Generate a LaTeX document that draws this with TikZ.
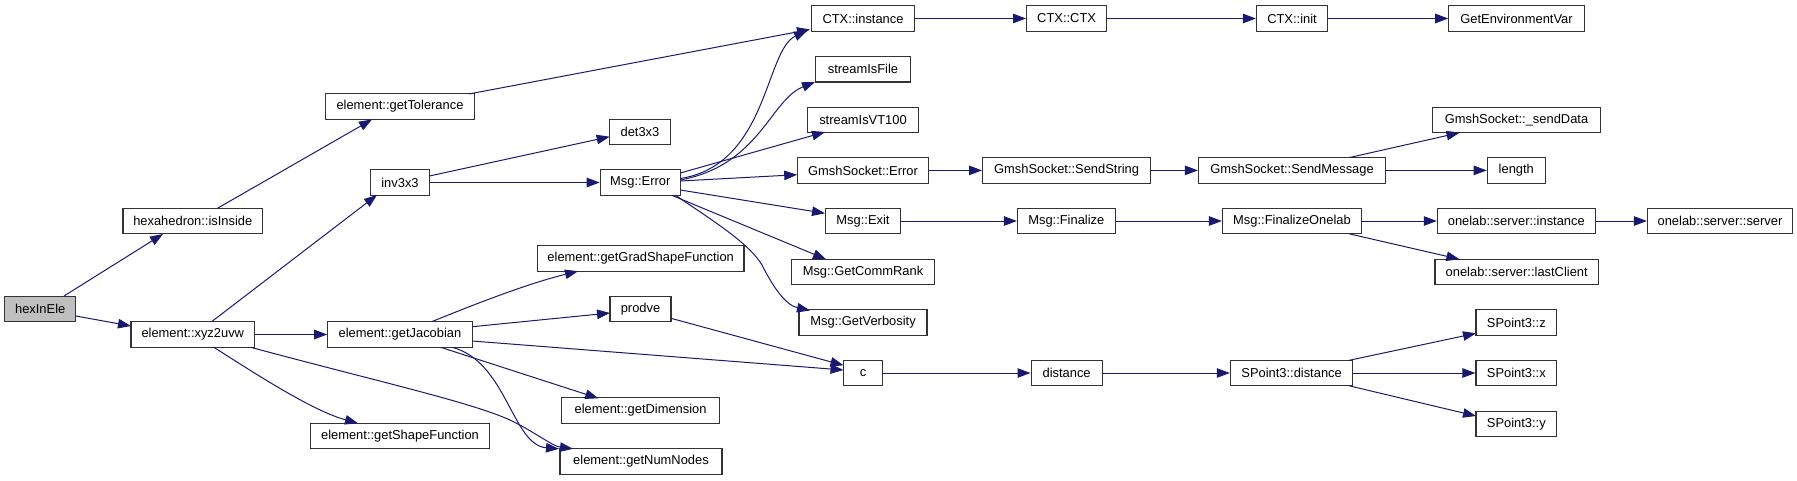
\documentclass[tikz,border=0pt]{standalone}
\usepackage{fontspec}
\setmainfont{Liberation Sans}
\usetikzlibrary{arrows.meta,calc}
\definecolor{edgeblue}{RGB}{25,25,112}
\definecolor{rootgray}{RGB}{191,191,191}
\begin{document}
\begin{tikzpicture}[x=1pt,y=-1pt,
  fn/.style={draw=black!80, line width=1.2pt, fill=white, rectangle, inner sep=0pt,
    minimum height=25.5pt, font=\fontsize{12.9}{14}\selectfont},
  rootfn/.style={fn, fill=rootgray},
  call/.style={draw=edgeblue, line width=1pt, -{Triangle[length=13pt,width=9.5pt]}}]
\useasboundingbox (0,0) rectangle (1797,480);
% nodes
\node[rootfn, minimum width=71pt] (hex) at (40.2,309) {hexInEle};
\node[fn, minimum width=139.5pt] (ins) at (192.8,221) {hexahedron::isInside};
\node[fn, minimum width=123.5pt] (xyz) at (192.8,334.5) {element::xyz2uvw};
\node[fn, minimum width=149.5pt] (tol) at (400,106.5) {element::getTolerance};
\node[fn, minimum width=59pt] (inv) at (400,182.5) {inv3x3};
\node[fn, minimum width=144.4pt] (jac) at (400,334.5) {element::getJacobian};
\node[fn, minimum width=179.5pt] (shp) at (400,436) {element::getShapeFunction};
\node[fn, minimum width=206.5pt] (grad) at (640.7,258.5) {element::getGradShapeFunction};
\node[fn, minimum width=158pt] (dim) at (640.6,410.5) {element::getDimension};
\node[fn, minimum width=162pt] (nn) at (641,461.5) {element::getNumNodes};
\node[fn, minimum width=60.7pt] (det) at (640,132) {det3x3};
\node[fn, minimum width=80pt] (err) at (640.3,182.5) {Msg::Error};
\node[fn, minimum width=61pt] (prod) at (640.5,309) {prodve};
\node[fn, minimum width=103pt] (ctxi) at (863,18.5) {CTX::instance};
\node[fn, minimum width=95pt] (sif) at (863,69.3) {streamIsFile};
\node[fn, minimum width=111.7pt] (svt) at (863,120) {streamIsVT100};
\node[fn, minimum width=131.6pt] (gse) at (863,170.4) {GmshSocket::Error};
\node[fn, minimum width=75pt] (exit) at (863,221) {Msg::Exit};
\node[fn, minimum width=143.2pt] (rank) at (863,272) {Msg::GetCommRank};
\node[fn, minimum width=128pt] (verb) at (863,322.5) {Msg::GetVerbosity};
\node[fn, minimum width=39pt] (c) at (863,373) {c};
\node[fn, minimum width=80pt] (ctx) at (1066.6,18.5) {CTX::CTX};
\node[fn, minimum width=168pt] (sstr) at (1066.6,170.4) {GmshSocket::SendString};
\node[fn, minimum width=97.6pt] (fin) at (1066.3,221) {Msg::Finalize};
\node[fn, minimum width=71pt] (dist) at (1066.6,373) {distance};
\node[fn, minimum width=71pt] (init) at (1292,18.5) {CTX::init};
\node[fn, minimum width=135.4pt] (env) at (1516.5,18.5) {GetEnvironmentVar};
\node[fn, minimum width=187pt] (smsg) at (1292,170.4) {GmshSocket::SendMessage};
\node[fn, minimum width=167.6pt] (sdat) at (1516.5,120) {GmshSocket::\_sendData};
\node[fn, minimum width=58pt] (len) at (1516.3,170.4) {length};
\node[fn, minimum width=139pt] (fol) at (1292,221) {Msg::FinalizeOnelab};
\node[fn, minimum width=157.8pt] (osi) at (1516.3,221) {onelab::server::instance};
\node[fn, minimum width=145pt] (oss) at (1720,221) {onelab::server::server};
\node[fn, minimum width=163.3pt] (olc) at (1516.7,272) {onelab::server::lastClient};
\node[fn, minimum width=122.4pt] (spd) at (1291.6,373) {SPoint3::distance};
\node[fn, minimum width=80.6pt] (spz) at (1516.3,322.5) {SPoint3::z};
\node[fn, minimum width=80.6pt] (spx) at (1516.3,373) {SPoint3::x};
\node[fn, minimum width=80.6pt] (spy) at (1516.3,424) {SPoint3::y};
% edges
\draw[call] ($(hex.center)+(23.8,-13)$) -- ($(ins.center)+(-29.8,13)$);
\draw[call] ($(hex.center)+(35.6,7)$) -- ($(xyz.center)+(-61.8,-8.5)$);
\draw[call] ($(ins.center)+(24.6,-12.7)$) -- ($(tol.center)+(-28,13)$);
\draw[call] ($(tol.center)+(68.8,-12.5)$) -- ($(ctxi.center)+(-53,11)$);
\draw[call] ($(xyz.center)+(18.8,-12.8)$) -- ($(inv.center)+(-23,12.5)$);
\draw[call] (xyz) -- (jac);
\draw[call] ($(xyz.center)+(20.5,12.5)$) .. controls (250,370) and (310,410) .. ($(shp.center)+(-42,-12.7)$);
\draw[call] ($(xyz.center)+(57.9,12.8)$) .. controls (380,382) and (470,402) .. (510,420) .. controls (535,432) and (552,446) .. ($(nn.center)+(-68,-12.7)$);
\draw[call] ($(inv.center)+(29.4,-6.5)$) -- ($(det.center)+(-30.3,4.7)$);
\draw[call] (inv) -- (err);
\draw[call] ($(jac.center)+(31.7,-12.8)$) .. controls (480,302) and (530,283) .. ($(grad.center)+(-62.7,12.7)$);
\draw[call] ($(jac.center)+(72.2,-7.8)$) -- ($(prod.center)+(-30.5,4)$);
\draw[call] ($(jac.center)+(72.2,6.5)$) -- ($(c.center)+(-19.5,-3)$);
\draw[call] ($(jac.center)+(40.7,12.8)$) -- ($(dim.center)+(-42.3,-12.2)$);
\draw[call] ($(jac.center)+(52.3,12.8)$) .. controls (507,362) and (512,445) .. ($(nn.center)+(-82,-12.7)$);
\draw[call] ($(err.center)+(40,-4)$) .. controls (768,165) and (765,50) .. ($(ctxi.center)+(-56,12.3)$);
\draw[call] ($(err.center)+(40,-2.5)$) .. controls (760,165) and (770,100) .. ($(sif.center)+(-48,12.7)$);
\draw[call] ($(err.center)+(40,-9.5)$) -- ($(svt.center)+(-38,12)$);
\draw[call] ($(err.center)+(40,-1.5)$) -- ($(gse.center)+(-65.8,4.3)$);
\draw[call] ($(err.center)+(40,7.5)$) -- ($(exit.center)+(-38,-7.7)$);
\draw[call] ($(err.center)+(31.4,12.8)$) -- ($(rank.center)+(-37,-12.8)$);
\draw[call] ($(err.center)+(35,12.8)$) .. controls (720,225) and (750,245) .. (762,265) .. controls (772,285) and (785,305) .. ($(verb.center)+(-53,-12)$);
\draw[call] ($(prod.center)+(30.5,9.3)$) -- ($(c.center)+(-19.5,-7.7)$);
\draw[call] (ctxi) -- (ctx);
\draw[call] (ctx) -- (init);
\draw[call] (init) -- (env);
\draw[call] (gse) -- (sstr);
\draw[call] (sstr) -- (smsg);
\draw[call] ($(smsg.center)+(57.2,-12.8)$) -- ($(sdat.center)+(-57,12.7)$);
\draw[call] (smsg) -- (len);
\draw[call] (exit) -- (fin);
\draw[call] (fin) -- (fol);
\draw[call] (fol) -- (osi);
\draw[call] (osi) -- (oss);
\draw[call] ($(fol.center)+(57.2,12.8)$) -- ($(olc.center)+(-57.3,-12.8)$);
\draw[call] (c) -- (dist);
\draw[call] (dist) -- (spd);
\draw[call] ($(spd.center)+(57.6,-12.7)$) -- ($(spz.center)+(-40.3,10.8)$);
\draw[call] (spd) -- (spx);
\draw[call] ($(spd.center)+(57.6,12.8)$) -- ($(spy.center)+(-40.3,-8)$);
\end{tikzpicture}
\end{document}
